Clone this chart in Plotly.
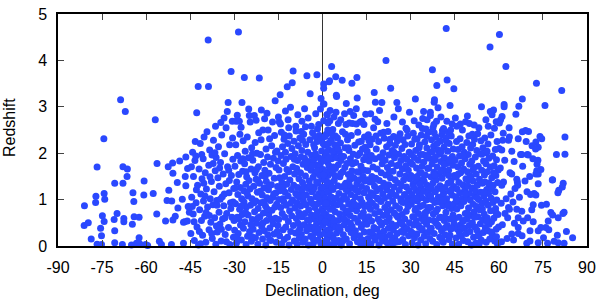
import plotly.graph_objects as go

# (declination deg, redshift), grouped by declination band
band_south_far = [
(-81.0,0.87),(-81.1,0.44),(-79.7,0.50),(-78.7,0.15),(-77.1,1.07),(-77.2,0.94),(-76.7,1.70),(-76.7,0.04),(-75.5,0.38),(-75.2,0.22),
(-75.2,0.03),(-74.9,0.65),(-74.4,2.31),(-74.3,1.13),(-74.1,1.01),(-74.3,0.53),(-70.9,0.57),(-70.7,1.35),(-70.7,0.33),(-70.7,0.07),
(-69.9,0.70),(-68.7,3.15),(-68.1,0.03),(-67.9,1.71),(-67.9,1.35),(-67.6,0.59),(-67.6,0.52),(-67.1,2.90),(-66.5,1.50),(-66.4,1.66),
(-65.0,0.02),(-64.7,0.47),(-64.5,1.15),(-64.2,0.96),(-64.1,0.63),(-63.3,0.06),(-62.4,0.62),(-62.4,0.18),(-62.2,0.05),(-60.8,1.10),
(-60.7,1.40),(-60.2,0.03),(-59.5,0.01),(-57.6,1.13),(-56.9,2.72),(-56.4,0.69),(-56.3,1.78),(-55.5,0.10),(-54.8,0.03),(-53.4,0.54),
(-52.9,0.98),(-52.5,1.71),(-52.3,1.20),(-51.4,0.03),(-51.3,0.97),(-51.0,1.79),(-50.9,1.57),(-50.9,0.56),(-50.1,0.64),(-49.4,1.37),
(-49.2,0.82),(-48.6,1.83),(-47.7,1.01),(-47.3,0.51),(-47.3,0.06),(-46.9,0.52),(-46.7,1.50),(-46.5,1.92),(-46.5,1.30),(-45.9,1.67),
(-45.7,0.85),(-45.3,0.73),(-46.0,0.54),(-45.4,0.84),
]
band_south_45_30 = [
(-44.8,0.27),(-44.5,1.05),(-44.2,2.02),(-44.0,0.69),(-43.9,1.50),(-43.6,0.12),(-43.4,1.84),(-43.1,1.94),(-43.0,0.93),(-42.8,2.87),
(-42.7,0.41),(-42.5,1.31),(-42.3,3.44),(-42.2,0.02),(-42.0,1.66),(-41.8,0.78),(-41.6,2.21),(-41.4,1.12),(-41.2,0.55),(-41.0,1.45),
(-40.8,0.23),(-40.6,1.88),(-40.5,0.97),(-40.3,2.35),(-40.1,0.64),(-39.9,1.58),(-39.7,0.08),(-39.5,1.23),(-39.3,2.46),(-39.1,0.84),
(-38.9,4.44),(-38.8,3.44),(-38.7,1.74),(-38.6,0.35),(-38.4,2.07),(-38.2,1.02),(-38.0,0.51),(-37.8,1.39),(-37.6,1.96),(-37.5,0.16),
(-37.3,0.89),(-37.1,2.28),(-36.9,1.17),(-36.7,0.61),(-36.5,1.62),(-36.3,0.04),(-36.2,1.91),(-36.0,0.98),(-35.8,0.30),(-35.6,1.47),
(-35.4,2.14),(-35.2,0.73),(-35.1,1.29),(-34.9,0.47),(-34.7,1.80),(-34.5,0.11),(-34.3,2.39),(-34.1,1.06),(-34.0,0.58),(-33.8,1.55),
(-33.6,0.87),(-33.5,2.76),(-33.3,1.99),(-33.1,0.25),(-32.9,1.34),(-32.8,2.55),(-32.6,0.70),(-32.4,2.90),(-32.3,1.71),(-32.1,3.09),
(-32.0,0.40),(-31.8,1.15),(-31.6,2.18),(-31.5,0.03),(-31.3,0.93),(-31.1,3.76),(-31.0,1.52),(-30.8,0.62),(-30.7,2.69),(-30.5,1.87),
(-30.3,0.19),(-30.2,1.24),(-44.3,0.85),(-43.7,0.52),(-42.9,1.21),(-41.9,0.31),(-41.1,1.97),(-40.4,1.35),(-39.6,0.72),(-38.3,1.49),
(-37.7,0.27),(-36.6,2.01),(-35.9,0.88),(-35.0,1.68),(-34.4,0.36),(-33.4,1.12),(-32.7,0.09),(-31.9,1.63),(-31.2,0.81),(-30.6,2.33),
(-30.1,0.55),(-44.6,1.71),(-43.3,2.25),(-41.5,0.05),(-40.0,1.08),(-38.5,0.66),(-37.2,1.78),(-36.1,0.43),(-34.8,1.01),(-33.2,0.61),
(-31.7,1.41),(-30.4,0.95),
]
band_south_30_15 = [
(-29.9,0.34),(-29.8,1.72),(-29.6,0.91),(-29.5,2.18),(-29.4,2.69),(-29.3,0.06),(-29.2,1.38),(-29.0,0.62),(-28.9,1.95),(-28.8,1.11),
(-28.7,0.27),(-28.6,4.61),(-28.5,1.54),(-28.3,2.69),(-28.2,0.79),(-28.1,2.41),(-28.0,1.26),(-27.9,0.45),(-27.8,1.83),(-27.7,2.56),
(-27.6,0.13),(-27.5,1.02),(-27.4,3.09),(-27.3,0.68),(-27.2,1.61),(-27.0,2.27),(-26.9,0.38),(-26.8,1.19),(-26.7,0.95),(-26.6,3.63),
(-26.5,1.77),(-26.4,0.52),(-26.3,2.04),(-26.1,1.33),(-26.0,0.03),(-25.9,0.84),(-25.8,1.49),(-25.6,2.35),(-25.5,0.21),(-25.4,1.08),
(-25.3,0.67),(-25.2,1.90),(-25.0,1.41),(-24.9,2.81),(-24.8,0.31),(-24.7,1.23),(-24.6,2.67),(-24.5,0.88),(-24.3,1.66),(-24.2,0.10),
(-24.1,2.12),(-24.0,1.02),(-23.9,0.57),(-23.7,1.85),(-23.6,0.36),(-23.4,1.29),(-23.2,2.81),(-23.1,0.74),(-23.0,1.58),(-22.9,2.23),
(-22.8,0.18),(-22.7,0.97),(-22.6,1.44),(-22.4,0.49),(-22.3,2.00),(-22.2,1.16),(-22.0,0.04),(-21.9,0.81),(-21.8,1.71),(-21.7,2.44),
(-21.6,0.29),(-21.5,3.62),(-21.4,1.35),(-21.3,0.63),(-21.1,1.97),(-21.0,0.93),(-20.9,2.29),(-20.8,2.93),(-20.7,0.42),(-20.6,1.52),
(-20.5,1.10),(-20.4,0.15),(-20.3,2.50),(-20.1,0.71),(-20.0,1.80),(-19.9,1.25),(-19.8,0.33),(-19.7,2.74),(-19.6,1.63),(-19.4,0.86),
(-19.3,0.02),(-19.2,2.09),(-19.1,1.39),(-19.0,0.55),(-18.9,1.04),(-18.7,1.92),(-18.6,0.24),(-18.5,2.50),(-18.4,1.21),(-18.3,0.69),
(-18.2,1.57),(-18.0,2.31),(-17.9,0.39),(-17.8,0.98),(-17.7,1.76),(-17.6,0.12),(-17.4,1.32),(-17.3,2.16),(-17.2,0.77),(-17.0,2.67),
(-16.9,1.05),(-16.8,0.48),(-16.7,1.89),(-16.5,0.26),(-16.4,1.46),(-16.3,2.38),(-16.1,3.13),(-16.0,0.60),(-15.9,1.14),(-15.8,1.69),
(-15.7,0.08),(-15.6,0.90),(-15.5,2.05),(-15.3,1.28),(-15.2,0.44),(-15.1,1.83),(-29.7,1.25),(-28.4,0.58),(-27.1,1.88),(-26.2,0.73),
(-25.7,1.15),(-24.4,0.46),(-23.8,1.99),(-23.3,0.93),(-22.5,1.65),(-22.1,0.60),(-21.2,1.18),(-20.2,0.50),(-19.5,1.50),(-18.8,0.80),
(-18.1,1.30),(-17.5,0.58),(-16.6,1.12),(-16.2,0.84),(-15.4,0.31),(-29.1,0.17),(-27.6,0.86),(-26.0,1.60),(-24.0,0.20),(-22.0,1.42),
(-20.0,0.95),(-18.0,0.14),(-16.0,2.02),
]
band_south_15_0 = [
(-14.9,1.00),(-14.9,0.57),(-14.8,1.64),(-14.7,2.67),(-14.6,0.22),(-14.5,1.19),(-14.4,3.26),(-14.3,2.63),(-14.2,0.83),(-14.1,1.95),
(-14.0,2.45),(-13.9,0.05),(-13.8,1.37),(-13.7,0.70),(-13.6,2.14),(-13.5,1.02),(-13.4,0.35),(-13.3,1.78),(-13.2,0.96),(-13.1,2.30),
(-13.0,0.14),(-12.9,1.50),(-12.8,0.62),(-12.7,1.16),(-12.6,2.02),(-12.5,0.41),(-12.4,1.87),(-12.3,0.88),(-12.2,1.33),(-12.0,3.43),
(-11.9,0.19),(-11.8,2.21),(-11.7,1.08),(-11.6,0.53),(-11.5,1.60),(-11.4,0.02),(-11.3,2.37),(-11.2,0.76),(-11.1,1.42),(-10.9,2.99),
(-10.8,0.31),(-10.7,1.93),(-10.6,1.22),(-10.5,0.65),(-10.4,2.10),(-10.3,3.52),(-10.2,0.99),(-10.1,1.71),(-10.0,3.77),(-9.9,0.44),
(-9.8,1.31),(-9.7,2.26),(-9.6,0.11),(-9.5,1.55),(-9.4,0.82),(-9.3,1.99),(-9.2,0.28),(-9.1,1.13),(-9.0,2.48),(-8.9,0.59),
(-8.8,1.67),(-8.7,0.93),(-8.6,0.04),(-8.5,1.84),(-8.4,1.26),(-8.3,0.49),(-8.2,2.16),(-8.1,0.72),(-8.0,1.45),(-7.9,0.17),
(-7.8,1.05),(-7.7,2.33),(-7.6,0.38),(-7.5,1.58),(-7.4,0.86),(-7.3,1.92),(-7.2,0.25),(-7.1,1.18),(-7.0,2.06),(-6.9,0.63),
(-6.8,1.37),(-6.7,0.08),(-6.6,1.76),(-6.5,0.97),(-6.4,2.41),(-6.3,0.46),(-6.2,1.28),(-6.1,1.89),(-6.0,0.70),(-5.9,0.15),
(-5.8,1.51),(-5.7,2.19),(-5.6,0.89),(-5.5,1.10),(-5.4,0.33),(-5.3,3.67),(-5.2,1.69),(-5.1,0.56),(-5.0,2.02),(-4.9,1.24),
(-4.8,0.02),(-4.7,0.78),(-4.6,1.82),(-4.5,1.40),(-4.4,0.42),(-4.3,2.29),(-4.2,3.28),(-4.1,1.01),(-4.0,0.21),(-3.9,1.63),
(-3.8,0.67),(-3.7,1.95),(-3.6,1.17),(-3.5,0.36),(-3.4,2.44),(-3.3,0.91),(-3.2,1.48),(-3.1,0.06),(-3.0,1.86),(-2.9,0.58),
(-2.8,1.27),(-2.7,2.12),(-2.6,0.83),(-2.5,1.56),(-2.4,0.29),(-2.3,2.85),(-2.2,1.06),(-2.1,1.74),(-2.0,0.48),(-1.9,3.69),
(-1.8,2.25),(-1.7,0.74),(-1.6,1.35),(-1.5,0.13),(-1.4,1.91),(-1.3,1.12),(-1.2,0.61),(-1.1,2.38),(-1.0,1.59),(-0.9,0.95),
(-0.8,0.24),(-0.7,1.78),(-0.6,1.23),(-0.5,3.18),(-0.4,0.52),(-0.3,2.05),(-0.2,1.44),(-0.1,0.80),(-3.9,0.94),(-3.5,1.73),
(-3.1,1.21),(-2.7,0.41),(-2.4,1.99),(-2.0,1.38),(-1.7,2.52),(-1.4,0.36),(-1.1,1.04),(-0.9,1.70),(-0.6,0.06),(-0.4,1.20),
(-0.2,2.31),(-1.8,1.62),(-2.6,2.36),(-3.3,0.17),(-4.6,0.55),(-5.5,1.80),(-6.4,1.08),(-7.5,0.64),(-8.5,1.09),(-9.6,1.87),
(-10.9,0.92),(-12.1,1.65),(-13.4,1.26),(-14.6,1.47),(-0.8,1.52),(-1.6,0.91),(-2.2,0.67),(-3.0,2.18),(-0.3,0.62),(-0.1,1.88),
(-4.3,1.30),(-5.0,0.38),(-6.8,2.28),(-8.0,0.33),(-11.5,2.55),(-13.0,2.39),(-9.1,2.58),(-7.2,2.47),(-5.8,2.57),(-3.8,2.58),
]
band_north_0_15 = [
(0.1,0.44),(0.2,1.65),(0.3,3.06),(0.4,3.49),(0.4,3.40),(0.4,2.70),(0.5,1.12),(0.5,3.06),(0.6,0.09),(0.7,2.17),
(0.8,0.86),(0.9,1.43),(1.0,0.31),(1.1,1.97),(1.2,0.68),(1.3,2.41),(1.4,1.29),(1.5,2.83),(1.6,2.83),(1.6,0.16),
(1.7,1.81),(1.8,0.97),(1.9,1.52),(2.0,0.50),(2.1,2.08),(2.2,3.54),(2.2,1.18),(2.3,0.03),(2.4,3.56),(2.5,2.70),
(2.5,1.70),(2.6,2.92),(2.6,0.79),(2.7,1.36),(2.8,2.27),(2.9,0.39),(3.0,1.05),(3.1,3.87),(3.1,1.88),(3.2,0.61),
(3.3,1.58),(3.4,0.20),(3.5,2.51),(3.6,1.22),(3.7,0.92),(3.8,1.99),(3.9,0.47),(4.0,1.41),(4.1,2.18),(4.2,0.06),
(4.3,0.74),(4.4,1.67),(4.5,3.65),(4.6,2.88),(4.6,1.03),(4.7,3.25),(4.8,3.22),(4.8,0.28),(4.9,1.90),(5.0,0.89),
(5.1,2.33),(5.2,1.30),(5.3,0.55),(5.4,2.64),(5.4,1.75),(5.5,0.12),(5.6,1.13),(5.7,2.03),(5.8,0.69),(5.9,1.49),
(6.0,0.35),(6.1,2.22),(6.2,0.98),(6.3,1.84),(6.4,0.02),(6.5,1.27),(6.6,0.58),(6.7,3.57),(6.8,2.46),(6.9,1.60),
(7.0,0.83),(7.1,0.24),(7.2,1.93),(7.3,1.08),(7.4,0.46),(7.5,2.85),(7.6,1.69),(7.7,2.12),(7.8,0.71),(7.9,1.35),
(8.0,2.62),(8.1,3.07),(8.1,0.15),(8.2,1.00),(8.3,1.78),(8.4,0.53),(8.5,2.29),(8.6,1.19),(8.7,0.37),(8.8,1.54),
(8.9,0.90),(9.0,2.06),(9.1,2.65),(9.2,0.05),(9.3,1.43),(9.4,0.66),(9.5,1.88),(9.6,1.11),(9.7,0.29),(9.8,2.38),
(9.9,0.80),(10.0,3.51),(10.0,1.62),(10.1,0.42),(10.2,2.64),(10.3,1.25),(10.4,0.95),(10.5,1.98),(10.6,2.81),(10.7,0.18),
(10.8,1.46),(10.9,0.60),(11.0,2.17),(11.1,1.06),(11.2,0.33),(11.3,1.80),(11.5,2.63),(11.5,2.96),(11.6,0.76),(11.7,3.63),
(11.7,1.34),(11.8,3.19),(11.9,0.09),(12.0,1.95),(12.1,0.51),(12.2,1.17),(12.3,2.24),(12.4,0.87),(12.5,1.59),(12.6,0.22),
(12.7,2.00),(12.8,2.67),(12.9,1.02),(13.0,0.64),(13.1,1.72),(13.2,0.40),(13.3,1.28),(13.4,2.69),(13.5,0.94),(13.6,2.09),
(13.7,0.13),(13.8,1.50),(13.9,0.72),(14.0,1.86),(14.1,1.15),(14.2,0.30),(14.3,2.35),(14.4,0.85),(14.5,1.40),(14.6,0.56),
(14.7,2.84),(14.8,1.93),(14.9,0.03),(0.1,1.27),(0.2,2.21),(0.3,0.73),(0.5,1.84),(0.6,0.98),(0.7,0.27),(0.8,1.56),
(0.9,2.36),(1.0,1.03),(1.1,0.55),(1.2,1.60),(1.3,0.12),(1.4,2.02),(1.5,0.84),(1.7,1.17),(1.8,2.50),(1.9,0.35),
(2.0,1.34),(2.1,0.93),(2.3,1.91),(2.4,0.62),(2.7,0.26),(2.8,1.06),(2.9,1.66),(3.0,2.28),(3.2,1.27),(3.4,0.80),
(3.6,2.05),(3.8,0.15),(4.0,0.55),(4.2,1.52),(4.4,2.37),(4.6,0.41),(0.2,0.04),(0.9,0.52),(1.6,1.38),(2.2,1.73),
(3.3,2.41),(0.4,1.53),(1.2,0.92),(2.0,2.21),(3.7,1.70),(5.2,2.10),(5.9,0.92),(6.6,1.93),(7.3,0.59),(8.0,1.22),
(8.8,2.12),(9.5,0.49),(10.2,1.77),(11.0,0.89),(11.8,1.60),(12.6,1.43),(13.4,0.46),(14.2,1.63),(5.6,0.41),(6.9,0.11),
(7.8,2.41),(9.1,1.32),(10.6,0.27),(12.0,2.45),(13.2,2.26),(14.5,2.13),(6.2,1.56),(7.5,1.31),(8.5,0.75),(9.9,1.50),
(11.3,1.21),(12.9,0.06),(14.0,0.64),
]
band_north_15_30 = [
(15.0,1.24),(15.1,0.47),(15.2,2.04),(15.3,0.88),(15.4,1.62),(15.5,0.16),(15.6,2.40),(15.7,1.05),(15.8,0.63),(15.9,1.83),
(16.0,0.30),(16.1,1.38),(16.2,2.18),(16.3,0.79),(16.4,1.15),(16.5,0.05),(16.6,1.95),(16.7,0.54),(16.8,1.50),(16.9,2.30),
(17.0,0.92),(17.1,0.21),(17.2,1.70),(17.3,1.09),(17.4,2.55),(17.5,0.40),(17.6,3.31),(17.7,1.29),(17.8,0.70),(17.9,2.73),
(17.9,1.88),(18.0,3.10),(18.0,0.13),(18.1,1.46),(18.2,0.85),(18.3,2.09),(18.4,1.19),(18.5,0.36),(18.6,1.66),(18.8,2.68),
(18.9,0.58),(19.0,1.01),(19.1,2.25),(19.2,0.02),(19.3,1.41),(19.4,0.74),(19.5,1.92),(19.6,0.27),(19.7,1.24),(19.8,2.43),
(19.9,0.96),(20.0,1.58),(20.1,0.45),(20.2,3.09),(20.3,1.77),(20.4,0.11),(20.5,1.12),(20.6,2.01),(20.7,0.66),(20.8,1.35),
(20.9,0.32),(21.0,2.32),(21.1,1.03),(21.2,0.83),(21.3,1.85),(21.4,0.19),(21.5,1.53),(21.6,4.00),(21.7,0.52),(21.8,2.14),
(21.9,1.21),(22.0,0.07),(22.1,1.69),(22.2,0.90),(22.3,2.47),(22.4,0.38),(22.5,1.32),(22.6,1.96),(22.7,0.61),(22.8,1.07),
(22.9,2.21),(23.0,0.24),(23.1,1.47),(23.2,3.40),(23.3,0.78),(23.4,1.78),(23.5,0.48),(23.6,1.16),(23.7,2.06),(23.8,0.04),
(23.9,0.97),(24.0,1.61),(24.1,0.35),(24.2,2.36),(24.3,1.27),(24.4,0.71),(24.5,1.90),(24.6,0.17),(24.7,1.43),(24.8,2.17),
(24.9,0.87),(25.0,1.09),(25.1,0.44),(25.2,1.73),(25.3,3.09),(25.4,0.27),(25.5,2.27),(25.6,1.36),(25.7,0.62),(25.8,2.96),
(25.9,1.98),(26.0,0.09),(26.1,1.20),(26.2,0.81),(26.3,1.55),(26.4,2.42),(26.5,0.53),(26.6,1.02),(26.7,1.84),(26.8,0.31),
(26.9,1.30),(27.0,2.10),(27.1,0.68),(27.2,1.66),(27.3,0.14),(27.4,2.29),(27.5,0.94),(27.6,1.42),(27.7,0.42),(27.8,1.93),
(27.9,1.11),(28.0,0.58),(28.1,2.19),(28.2,0.03),(28.3,1.51),(28.4,2.54),(28.5,0.75),(28.6,1.27),(28.7,1.87),(28.8,0.37),
(28.9,1.04),(29.0,2.37),(29.1,0.85),(29.2,1.63),(29.3,0.22),(29.4,1.19),(29.5,2.02),(29.6,0.50),(29.7,1.45),(29.8,0.98),
(29.9,1.80),(15.4,1.43),(16.2,0.96),(17.0,1.39),(17.8,0.21),(18.7,1.03),(19.5,0.52),(20.4,1.88),(21.2,1.29),(22.0,0.72),
(22.8,1.60),(23.6,0.12),(24.4,2.02),(25.2,0.66),(26.0,1.75),(26.8,0.96),(27.6,0.29),(28.4,1.73),(29.2,0.96),(15.8,2.27),
(18.2,2.37),(20.8,2.45),(23.0,2.30),(26.0,2.35),(28.8,2.50),(16.8,0.29),(19.9,0.20),(24.9,0.08),(27.0,0.48),
]
band_north_30_45 = [
(30.0,0.32),(30.1,1.52),(30.2,0.90),(30.3,2.20),(30.4,1.11),(30.5,0.07),(30.6,1.76),(30.7,0.63),(30.8,1.33),(30.9,2.43),
(31.0,0.45),(31.1,1.02),(31.2,1.91),(31.3,0.18),(31.4,1.47),(31.5,0.77),(31.6,3.17),(31.7,2.06),(31.8,1.20),(31.9,0.54),
(32.0,1.68),(32.1,0.26),(32.2,2.31),(32.3,0.97),(32.4,1.39),(32.5,0.02),(32.6,1.85),(32.7,0.70),(32.8,1.14),(32.9,2.12),
(33.0,0.40),(33.1,1.58),(33.2,0.85),(33.3,1.97),(33.4,0.13),(33.5,1.26),(33.6,2.39),(33.7,0.60),(33.8,1.04),(33.9,1.72),
(34.0,2.53),(34.0,0.34),(34.1,2.75),(34.2,1.44),(34.3,0.88),(34.4,2.90),(34.5,1.81),(34.6,0.21),(34.7,1.18),(34.8,2.24),
(34.9,0.66),(35.0,1.53),(35.1,0.05),(35.2,1.95),(35.3,0.99),(35.4,0.47),(35.5,2.11),(35.6,1.31),(35.7,0.76),(35.8,1.67),
(35.9,0.29),(36.0,2.45),(36.1,1.08),(36.2,0.56),(36.3,1.89),(36.4,1.22),(36.5,0.16),(36.6,2.02),(36.7,2.88),(36.7,2.81),
(36.8,0.83),(36.9,1.49),(37.0,0.38),(37.1,2.29),(37.2,1.00),(37.3,1.77),(37.4,3.80),(37.5,0.10),(37.6,1.36),(37.7,0.69),
(37.8,2.15),(37.9,1.59),(38.0,3.10),(38.0,0.27),(38.1,3.15),(38.2,0.94),(38.3,1.86),(38.4,1.17),(38.5,0.50),(38.6,2.35),
(38.7,1.43),(38.8,2.69),(38.9,3.46),(38.9,0.03),(39.0,1.70),(39.1,0.79),(39.2,1.24),(39.3,2.98),(39.4,2.07),(39.5,0.42),
(39.6,1.55),(39.7,0.95),(39.8,1.98),(39.9,0.19),(40.0,1.30),(40.1,2.26),(40.2,0.62),(40.3,1.82),(40.4,1.06),(40.5,0.33),
(40.6,2.40),(40.7,1.46),(40.8,2.49),(40.9,0.87),(41.0,1.65),(41.1,0.08),(41.2,1.13),(41.3,2.13),(41.4,0.55),(41.5,1.90),
(41.6,1.26),(41.7,0.24),(41.8,1.57),(41.9,2.33),(42.0,0.73),(42.1,4.69),(42.2,1.02),(42.3,1.78),(42.4,3.58),(42.5,0.44),
(42.6,2.04),(42.7,1.35),(42.8,0.91),(42.9,1.63),(43.0,0.14),(43.1,2.21),(43.2,1.18),(43.3,0.58),(43.4,3.03),(43.5,1.87),
(43.6,0.36),(43.7,1.40),(43.8,2.37),(43.9,0.81),(44.0,1.10),(44.1,2.63),(44.2,0.04),(44.3,1.74),(44.4,0.67),(44.5,2.09),
(44.6,1.28),(44.7,3.39),(44.8,0.48),(44.9,1.52),(30.2,1.97),(30.6,0.28),(31.0,1.27),(31.4,2.30),(31.8,0.81),(32.2,1.50),
(32.6,0.44),(33.0,2.18),(33.4,1.07),(33.8,0.37),(34.2,1.97),(34.6,1.39),(35.0,0.72),(35.4,2.36),(35.8,1.14),(36.2,1.68),
(36.6,0.36),(37.0,1.26),(37.4,2.03),(37.8,0.55),(38.2,1.53),(38.6,0.74),(39.0,2.21),(39.4,1.05),(39.8,0.61),(40.2,1.62),
(40.6,0.14),(41.0,0.99),(41.4,1.76),(41.8,0.40),(42.2,2.25),(42.6,0.87),(43.0,1.52),(43.4,0.23),(43.8,1.21),(44.2,1.93),
(44.6,0.90),(30.8,0.98),(32.0,1.03),(33.2,1.33),(34.4,0.54),(35.6,1.92),(36.8,1.09),(38.0,2.44),(39.2,0.45),(40.4,2.03),
(41.6,0.62),(42.8,2.45),(44.0,0.38),(31.2,0.63),(33.6,1.58),(36.0,0.83),(38.4,1.92),(40.8,1.22),(43.2,1.85),(35.2,2.52),
(37.6,2.55),(41.2,2.53),(43.6,2.50),
]
band_north_45_60 = [
(45.0,0.59),(45.1,1.85),(45.2,2.76),(45.3,1.06),(45.4,0.17),(45.5,1.48),(45.6,2.25),(45.7,0.80),(45.8,1.23),(45.9,0.36),
(46.0,1.71),(46.1,2.08),(46.2,0.94),(46.3,0.04),(46.4,1.37),(46.5,0.62),(46.6,1.94),(46.7,1.15),(46.8,2.31),(46.9,0.45),
(47.0,1.58),(47.1,0.87),(47.2,0.21),(47.3,1.79),(47.4,1.02),(47.5,2.14),(47.6,2.50),(47.7,0.53),(47.8,1.32),(47.9,0.12),
(48.0,1.66),(48.1,0.96),(48.2,2.02),(48.3,0.38),(48.4,1.21),(48.5,1.88),(48.6,0.70),(48.7,2.68),(48.8,1.45),(48.9,0.27),
(49.0,1.04),(49.1,2.23),(49.2,0.58),(49.3,1.60),(49.4,0.09),(49.5,1.29),(49.6,1.97),(49.7,0.82),(49.8,2.37),(49.9,0.44),
(50.0,2.64),(50.0,1.13),(50.1,1.76),(50.2,0.31),(50.3,0.99),(50.4,2.11),(50.5,1.50),(50.6,0.66),(50.7,0.02),(50.8,1.83),
(50.9,1.25),(51.0,0.50),(51.1,2.19),(51.2,0.90),(51.3,1.40),(51.4,0.19),(51.5,1.69),(51.6,0.74),(51.7,2.30),(51.8,1.08),
(51.9,0.41),(52.0,1.92),(52.1,1.18),(52.2,0.06),(52.3,1.55),(52.4,0.85),(52.5,2.06),(52.6,0.34),(52.7,1.31),(52.8,2.42),
(52.9,0.63),(53.0,1.72),(53.1,1.00),(53.2,2.55),(53.3,0.24),(53.4,1.44),(53.5,0.78),(53.6,1.99),(53.7,0.48),(53.8,1.16),
(53.9,2.27),(54.0,0.13),(54.1,3.00),(54.2,1.63),(54.3,0.92),(54.4,1.35),(54.5,0.56),(54.6,2.12),(54.7,0.29),(54.8,1.83),
(54.9,1.07),(55.0,0.69),(55.1,1.53),(55.2,2.33),(55.3,1.38),(55.4,0.40),(55.5,0.97),(55.6,1.77),(55.7,0.08),(55.8,2.01),
(55.9,1.22),(56.0,0.61),(56.1,1.60),(56.2,0.33),(56.3,2.20),(56.4,0.88),(56.5,1.13),(56.6,1.89),(56.7,0.47),(56.8,1.28),
(56.9,0.15),(57.0,4.29),(57.1,2.90),(57.1,1.70),(57.2,0.76),(57.3,2.39),(57.4,1.03),(57.5,0.52),(57.6,1.47),(57.7,2.83),
(57.8,0.25),(57.9,1.94),(58.0,0.94),(58.1,1.31),(58.2,2.93),(58.3,0.60),(58.4,1.73),(58.5,2.54),(58.6,0.11),(58.7,1.17),
(58.8,2.08),(58.9,0.81),(59.0,1.52),(59.1,0.36),(59.2,1.86),(59.3,0.99),(59.4,2.25),(59.5,0.05),(59.6,1.37),(59.7,0.68),
(59.8,1.64),(59.9,0.41),(45.5,0.98),(46.2,1.55),(47.0,0.36),(47.8,1.95),(48.6,1.12),(49.4,0.70),(50.2,1.51),(51.0,2.41),
(51.8,0.62),(52.6,1.04),(53.4,0.06),(54.2,1.98),(55.0,1.16),(55.8,0.54),(56.6,1.36),(57.4,0.30),(58.2,1.58),(59.0,0.73),
(46.6,0.28),(48.0,0.55),(49.6,1.41),(51.2,1.64),(52.8,0.22),(54.4,0.80),(56.0,2.04),(57.6,1.24),(59.2,0.20),
]
band_north_far = [
(60.2,4.56),(62.4,3.87),(61.8,3.05),(61.8,3.00),(66.8,3.01),(68.0,3.17),(72.8,3.51),(75.7,3.03),(81.4,3.35),(61.1,2.79),
(60.6,2.72),(65.8,2.84),(60.2,2.65),(63.5,2.55),(68.0,2.46),(70.1,2.47),(69.1,2.49),(74.0,2.36),(74.6,2.31),(82.5,2.35),
(72.6,2.24),(73.4,2.13),(79.6,1.97),(82.5,1.98),(71.6,1.88),(73.0,1.76),(67.8,1.97),(69.7,1.97),(68.1,1.72),(72.9,1.62),
(73.4,1.55),(73.4,1.34),(78.3,1.43),(81.9,1.35),(81.6,1.27),(80.4,1.20),(80.1,1.15),(72.0,1.13),(72.6,1.10),(69.6,1.17),
(70.8,1.11),(71.7,0.89),(76.2,0.90),(74.5,0.88),(77.7,0.72),(78.3,0.67),(82.2,0.73),(81.8,0.70),(80.2,0.61),(76.8,0.54),
(76.0,0.40),(74.3,0.40),(73.4,0.33),(77.0,0.35),(83.0,0.31),(85.1,0.18),(79.9,0.23),(76.6,0.06),(80.2,0.07),(82.2,0.06),
(73.4,0.07),(69.5,0.06),(70.6,0.11),(71.7,0.52),(70.6,0.33),(69.8,0.61),(67.8,0.75),(66.1,0.79),(68.3,0.54),(66.6,0.40),
(66.6,0.27),(64.4,0.26),(65.0,0.13),(59.9,0.08),(60.9,0.09),(63.3,0.83),(63.6,0.79),(63.0,0.61),(66.6,0.61),(63.6,2.35),
(63.3,2.28),(61.3,2.28),(60.1,2.10),(61.0,2.07),(64.4,2.04),(66.6,2.31),(67.4,1.97),(63.8,1.58),(64.4,1.55),(66.1,1.44),
(66.3,1.38),(66.4,1.31),(65.5,1.24),(61.6,1.38),(61.0,1.31),(62.5,1.02),(64.8,0.95),(61.2,0.46),(62.8,0.16),(67.0,1.05),
(60.5,1.68),(62.0,1.85),(65.2,1.82),(68.9,1.40),(70.5,1.50),(60.8,0.92),(62.1,0.70),(65.3,0.49),(67.9,0.22),(71.2,0.78),
(75.2,0.18),(78.8,0.10),(64.1,1.12),(61.5,2.43),(69.3,2.25),(71.3,2.16),(72.5,2.09),(70.0,1.96),(73.3,1.85),(74.3,1.65),
(72.6,1.55),(78.2,1.42),
]
upper_fringe = [
(-36.4,2.58),(-34.6,2.66),(-29.0,2.82),(-25.1,2.95),(-22.6,2.71),(-18.9,2.86),(-15.0,2.78),(-12.6,2.91),(-11.7,2.72),
(-8.4,2.83),(-7.0,2.69),(-6.1,2.96),(-4.9,2.76),(-1.3,2.62),(-0.7,2.95),(1.9,2.65),(3.9,2.78),(6.2,2.72),(9.4,2.90),
(14.1,2.62),(16.4,2.85),(19.4,2.92),(21.9,2.64),(24.3,2.78),(27.2,2.67),(29.6,2.88),(31.2,2.70),(32.8,2.61),(35.6,2.72),
(37.9,2.62),(40.3,2.78),(42.3,2.69),(45.7,2.58),(46.9,2.63),(49.3,2.80),(51.6,2.61),(55.6,2.72),(56.4,2.58),(59.1,2.68),
]

x_ticks = [-90, -75, -60, -45, -30, -15, 0, 15, 30, 45, 60, 75, 90]
y_ticks = [0, 1, 2, 3, 4, 5]

bands = [band_south_far, band_south_45_30, band_south_30_15, band_south_15_0,
         band_north_0_15, band_north_15_30, band_north_30_45, band_north_45_60, band_north_far,
         upper_fringe]
dec = [p[0] for b in bands for p in b]
z = [p[1] for b in bands for p in b]

FONT = "Liberation Sans, Arial, sans-serif"

fig = go.Figure()
fig.add_trace(go.Scatter(
    x=dec, y=z, mode="markers", cliponaxis=False,
    marker=dict(size=7, color="#2a48ff", line=dict(width=0)),
    showlegend=False, hoverinfo="x+y",
))

axis_common = dict(
    showgrid=False, showline=True, linecolor="black", linewidth=1.5,
    mirror="ticks", ticks="inside", ticklen=6, tickwidth=1, tickcolor="#444",
    tickfont=dict(family=FONT, size=16, color="black"),
    ticklabeloverflow="allow",
)
fig.update_xaxes(range=[-90, 90], tickvals=x_ticks, ticktext=[str(v) for v in x_ticks],
                 zeroline=True, zerolinecolor="#333", zerolinewidth=1,
                 ticklabelstandoff=6, **axis_common)
fig.update_yaxes(range=[0, 5], tickvals=y_ticks, ticktext=[str(v) for v in y_ticks],
                 zeroline=False, ticklabelstandoff=6, **axis_common)

fig.update_layout(
    width=602, height=300,
    margin=dict(l=58, r=13, t=6, b=54, pad=0),
    paper_bgcolor="white", plot_bgcolor="white",
    font=dict(family=FONT, size=16, color="black"),
    annotations=[
        dict(text="Declination, deg", xref="paper", yref="paper", x=0.5, y=0,
             xanchor="center", yanchor="middle", yshift=-44, showarrow=False,
             font=dict(family=FONT, size=16, color="black")),
        dict(text="Redshift", xref="paper", yref="paper", x=0, y=0.5,
             xanchor="center", yanchor="middle", xshift=-49, yshift=2, textangle=-90,
             showarrow=False, font=dict(family=FONT, size=16, color="black")),
    ],
)

fig.write_html("out.html", config={"displayModeBar": False},
               post_script="document.body.style.margin='0';document.body.style.overflow='hidden';")
